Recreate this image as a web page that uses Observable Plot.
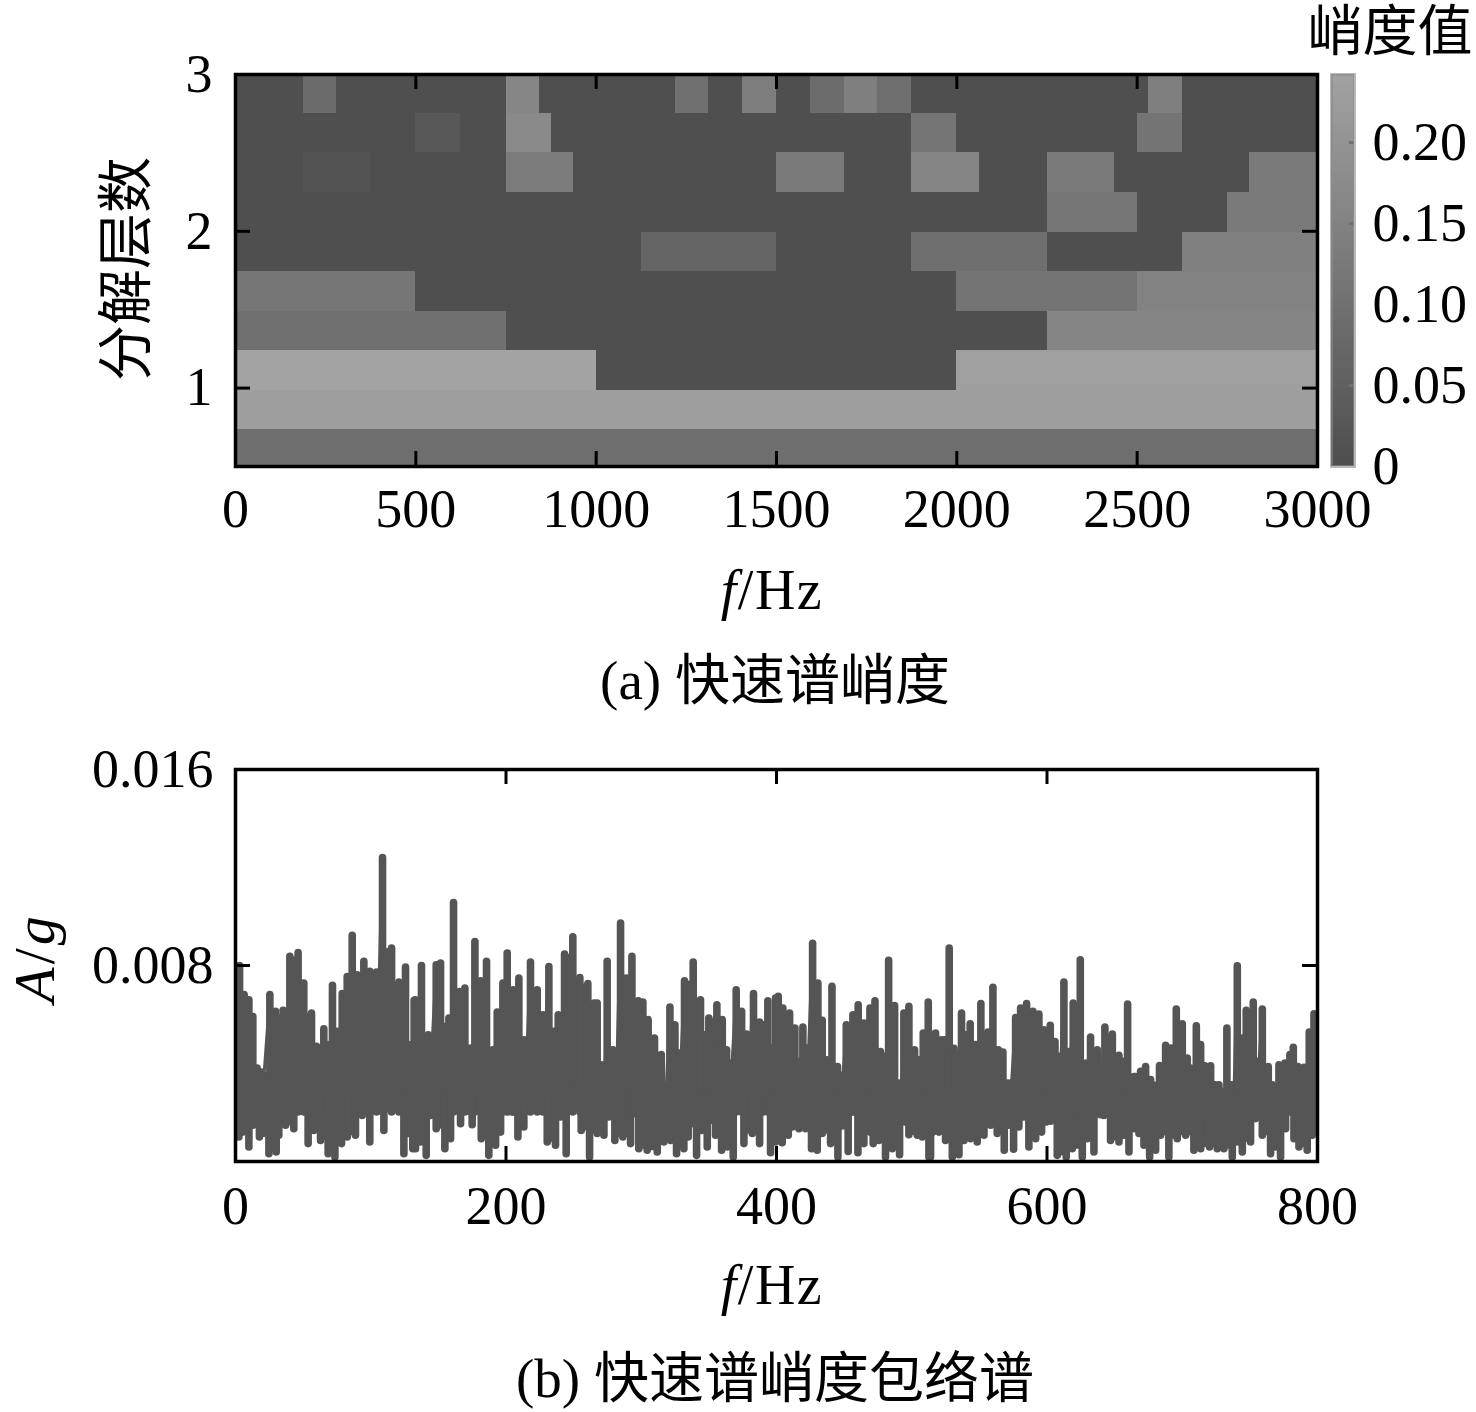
<!DOCTYPE html>
<html><head><meta charset="utf-8">
<script src="https://cdn.jsdelivr.net/npm/d3@7"></script>
<script src="https://cdn.jsdelivr.net/npm/@observablehq/plot@0.6"></script>
<style>
html,body{margin:0;padding:0;background:#fff;}
#page{position:relative;width:1476px;height:1412px;overflow:hidden;font-family:"Liberation Serif","Noto Sans CJK SC",serif;color:#000;}
#page>div{position:absolute;}
#page svg{position:absolute;left:0;top:0;background:transparent;overflow:visible;max-width:none;}
.t{font-size:55px;line-height:1;white-space:nowrap;transform:translate(-50%,-50%);}
.r{transform:translate(-50%,-50%) rotate(-90deg);}
.cjk{font-family:"Liberation Serif","Noto Sans CJK SC",serif;}
.u{font-size:56px;letter-spacing:1.5px;}
.a{font-size:58px;letter-spacing:3px;}
.l{font-size:56px;}
</style></head><body>
<div id="page"></div>
<script>
// ---------- (a) fast kurtogram: kurtosis per cell, one list per level (bottom row first)
const rowEdges = [0.5,0.736,0.985,1.24,1.49,1.744,1.99,2.25,2.5,2.75,3];
const rows = [
 [0.089],
 [0.228,0.228],
 [0.242,0,0.230],
 [0.095,0,0,0.156],
 [0.112,0,0,0,0.107,0.147],
 [0,0,0,0.060,0,0.089,0,0.141],
 [0,0,0,0,0,0,0,0,0,0.112,0,0.124],
 [0,0.012,0,0,0.130,0,0,0,0.124,0,0.156,0,0.124,0,0,0.124],
 [0,0,0,0,0.026,0,0.170,0,0,0,0,0,0,0,0,0.109,0,0,0,0,0.107,0,0,0],
 [0,0,0.081,0,0,0,0,0,0.158,0,0,0,0,0.095,0,0.132,0,0.084,0.138,0.089,0,0,0,0,0,0,0,0.138,0,0,0,0]
];
const heatXTicks = [0,500,1000,1500,2000,2500,3000];
const heatYTicks = [1,2,3];
const barTicks = [0,0.05,0.10,0.15,0.20];
const barMax = 0.242;

// ---------- (b) envelope spectrum, amplitude in 0.001 g: tops and bottoms of the trace
const hiF = [3.0,6.4,9.9,12.8,16.0,19.2,25.4,29.6,32.0,35.2,40.2,46.3,50.5,56.2,59.9,65.3,68.5,71.7,75.4,78.9,82.6,86.3,90.0,94.9,99.3,104.3,108.7,115.4,120.8,125.7,129.7,132.1,
133.1,137.5,142.5,148.4,151.6,155.3,157.8,161.2,165.6,169.6,173.8,177.0,181.2,185.6,190.3,193.5,197.7,200.9,205.3,209.5,213.5,218.1,223.1,227.3,231.7,235.4,238.6,243.3,249.4,254.6,260.5,265.2,
267.4,270.6,274.8,279.0,281.5,284.7,288.9,293.1,297.8,301.2,305.1,309.8,314.8,317.2,321.2,324.9,327.8,332.0,338.4,343.8,347.1,350.0,355.9,359.9,363.1,365.5,370.2,374.2,377.9,383.0,387.5,390.2,393.6,397.3,399.3,
401.3,404.7,406.7,409.7,413.6,416.1,419.5,422.7,426.7,430.6,433.8,437.5,441.0,445.1,446.6,451.6,456.5,460.4,464.6,469.1,472.8,476.9,479.4,482.9,487.3,491.0,494.2,497.9,502.1,505.3,507.0,508.5,512.2,517.6,521.8,524.3,527.7,531.2,
532.4,536.8,539.8,543.2,547.2,551.1,556.3,560.0,564.0,567.4,570.6,573.1,576.8,580.5,584.9,589.6,594.0,597.7,602.4,605.9,607.3,609.3,612.5,616.2,619.4,624.6,629.0,632.2,637.2,639.6,642.8,648.3,653.2,656.9,659.6,664.3,
665.5,669.2,672.9,676.6,679.5,683.2,687.7,691.4,695.6,700.0,703.7,706.2,710.4,713.6,716.8,721.0,724.2,727.1,729.1,733.0,736.5,740.7,744.4,747.3,752.5,756.2,759.2,763.6,766.6,768.5,771.5,775.9,779.6,782.1,785.5,790.0,793.9,797.4,800];
const hiA = [7.98,6.79,6.58,5.90,3.79,3.63,6.79,6.11,5.83,6.15,8.35,8.51,7.26,6.04,4.68,5.40,4.75,7.17,5.29,6.83,7.53,9.21,7.60,8.15,7.74,7.71,12.39,8.69,7.30,7.92,4.75,6.56,
6.58,7.98,5.15,8.01,8.08,5.49,5.83,10.55,6.92,7.06,4.61,8.96,7.36,8.15,4.54,6.08,7.26,8.49,6.99,7.47,4.95,8.12,6.99,5.97,7.94,5.29,5.97,8.45,9.15,7.49,7.24,6.45,
6.45,3.93,8.15,4.54,3.79,9.71,7.47,8.35,6.54,6.49,5.77,5.02,4.34,2.91,6.28,5.56,4.41,7.36,8.12,6.58,5.15,5.83,6.38,5.77,4.54,4.00,6.99,6.11,5.18,6.83,5.67,5.56,6.54,4.61,6.65,
6.72,6.24,3.39,6.04,5.43,4.07,5.47,4.61,8.89,7.26,5.74,4.13,7.13,3.86,3.52,5.56,5.97,6.38,5.63,6.24,6.54,4.47,4.27,8.19,6.35,3.18,6.04,6.31,4.54,4.13,3.39,5.22,6.49,5.22,4.95,4.95,8.69,4.60,
4.41,6.04,5.15,5.60,4.75,6.43,5.26,7.09,4.54,4.45,3.18,3.18,5.86,6.24,6.43,6.11,6.00,5.36,5.54,4.88,2.64,4.27,7.30,4.47,6.45,8.21,4.00,5.06,4.54,1.89,5.47,5.18,4.31,4.07,6.41,3.45,
3.45,3.66,3.86,3.32,3.09,3.90,4.72,4.61,6.20,5.60,4.20,3.79,5.52,4.75,3.89,3.89,3.11,3.11,2.84,5.43,3.11,7.97,5.02,6.15,6.49,4.07,6.20,3.86,3.11,2.71,3.93,4.00,4.34,4.64,3.86,3.82,5.26,6.01,5.97];
const loF = [2.5,5.4,9.9,12.8,17.7,24.7,30.1,32.0,37.0,43.1,48.1,53.7,57.9,62.9,68.5,73.5,78.4,82.6,88.7,93.7,99.3,103.5,109.7,114.6,119.6,121.3,124.5,128.2,131.1,
133.1,136.8,141.0,144.2,148.4,154.8,159.0,162.2,166.4,170.6,175.0,179.2,181.7,187.3,192.3,196.0,199.7,202.9,204.6,208.8,213.2,218.1,223.1,226.3,230.5,236.6,240.3,244.5,249.4,252.7,255.6,261.8,
267.4,272.4,276.1,280.5,286.4,292.1,295.3,298.2,304.4,311.8,316.7,321.7,326.1,331.5,334.7,337.7,340.9,344.6,348.8,352.5,354.9,359.4,363.6,368.0,372.2,375.9,382.1,387.5,391.4,395.6,399.3,
400.5,404.2,408.7,411.6,416.6,421.5,425.9,430.1,433.8,440.0,445.4,448.6,453.0,457.2,460.2,464.6,469.1,471.5,475.7,480.6,485.6,491.0,494.9,497.9,504.1,507.8,512.7,513.9,515.6,520.1,525.0,530.0,
534.9,538.6,543.5,548.4,553.4,558.3,563.2,568.4,571.8,575.3,579.2,582.9,586.6,591.6,596.0,599.5,602.7,607.6,614.2,618.7,626.1,629.8,634.7,638.9,642.1,647.0,653.2,656.9,660.6,664.3,
668.0,671.7,675.9,680.3,684.0,690.1,696.3,702.5,708.6,713.6,720.2,725.9,730.8,737.0,740.7,744.4,750.5,754.2,759.2,765.3,769.0,772.7,776.4,780.1,782.6,786.3,792.4,796.1,800];
const loA = [0.98,1.18,0.57,1.46,0.98,0.30,0.37,1.05,1.46,1.32,3.50,0.71,1.25,0.84,0.30,0.16,0.71,0.98,1.05,1.86,0.78,2.14,1.25,2.14,2.14,2.88,0.30,1.12,0.50,
0.50,0.78,0.23,1.86,1.32,0.50,0.91,2.20,1.52,2.34,1.48,2.82,0.91,0.23,0.64,1.18,2.14,2.95,2.00,0.98,1.39,2.54,3.09,2.14,0.78,0.64,1.80,0.30,3.02,3.02,1.25,0.16,
1.12,1.05,1.80,0.84,0.98,0.71,1.93,0.50,0.44,0.37,0.78,0.84,0.30,0.50,0.98,1.52,0.23,1.25,0.57,1.66,1.05,0.44,0.57,0.16,2.07,0.71,1.12,0.71,2.61,0.34,0.78,
0.98,0.75,1.05,1.39,1.32,1.32,0.50,0.44,1.12,0.71,0.16,1.43,0.39,2.00,0.34,0.71,1.18,0.71,0.84,0.16,0.50,0.26,1.59,1.07,1.05,0.98,0.16,0.16,1.18,1.18,0.84,0.16,
0.26,0.84,0.91,0.78,1.05,1.46,1.12,0.44,1.46,0.48,1.39,1.80,0.57,0.91,1.18,1.59,1.62,0.23,0.16,0.50,0.16,0.91,0.37,2.00,1.86,0.84,0.78,1.05,0.37,1.32,
1.12,0.64,0.16,0.44,1.05,0.16,0.91,1.05,0.44,0.50,0.57,0.50,0.50,0.16,0.78,0.37,0.78,1.73,1.05,0.30,0.57,0.16,1.32,2.14,0.91,0.57,0.44,1.05,1.18];
const lineXTicks = [0,200,400,600,800];
const lineYTicks = [0,0.008,0.016];
const lineYLabels = ["0.008","0.016"];

// ---------- text
const texts = [
 {html:"峭度值",x:1390,y:31,cls:"cjk"},
 {html:"分解层数",x:126,y:269,cls:"cjk r l"},
 {html:"<i>f</i>/Hz",x:772,y:590,cls:"u"},
 {html:"(a) 快速谱峭度",x:775,y:680,cls:"cjk"},
 {html:"<i>A</i>/<i>g</i>",x:35,y:958,cls:"r a"},
 {html:"<i>f</i>/Hz",x:772,y:1285,cls:"u"},
 {html:"(b) 快速谱峭度包络谱",x:775,y:1378,cls:"cjk"}
];

const page = document.getElementById("page");
function place(node, top){
  const w = document.createElement("div");
  w.style.cssText = `left:0;top:${top}px;width:1476px;`;
  w.appendChild(node); page.appendChild(w);
}
const colorScale = {type:"linear",domain:[0,barMax],range:["#4f4f4f","#a3a3a3"]};
const font = {fontFamily:"Liberation Serif",fontSize:54,fill:"#000"};
const TICK = 15, TW = 3, FW = 3.5;

// heat cells
const cells = rows.flatMap((vals,r)=>vals.map((v,i)=>({
  x1:i*3000/vals.length, x2:(i+1)*3000/vals.length, y1:rowEdges[r], y2:rowEdges[r+1], v
})));

const P1H = 392;
place(Plot.plot({
  width:1476,height:600,marginLeft:235,marginRight:159,marginTop:74,marginBottom:134,
  style:{background:"transparent",overflow:"visible"},
  x:{domain:[0,3000]},
  y:{domain:[0.5,3]},
  color:colorScale,
  marks:[
    Plot.rect(cells,{x1:"x1",x2:"x2",y1:"y1",y2:"y2",fill:"v",shapeRendering:"crispEdges"}),
    Plot.ruleX(heatXTicks,{insetTop:P1H-TICK,strokeWidth:TW}),
    Plot.ruleX(heatXTicks,{insetBottom:P1H-TICK,strokeWidth:TW}),
    Plot.ruleY(heatYTicks,{insetRight:1082-TICK,strokeWidth:TW}),
    Plot.ruleY(heatYTicks,{insetLeft:1082-TICK,strokeWidth:TW}),
    Plot.frame({stroke:"#000",strokeWidth:FW}),
    Plot.axisX({ticks:heatXTicks,tickSize:0,tickPadding:22,tickFormat:d=>String(d),label:null,...font}),
    Plot.axisY({ticks:heatYTicks,tickSize:0,tickPadding:23,tickFormat:d=>String(d),label:null,...font})
  ]
}),0);

// colour bar
const bands = d3.range(0,barMax,barMax/40);
place(Plot.plot({
  width:1476,height:600,marginLeft:1331,marginRight:122,marginTop:74,marginBottom:134,
  style:{background:"transparent",overflow:"visible"},
  x:{axis:null,domain:[0,1]},
  y:{domain:[0,barMax]},
  color:colorScale,
  marks:[
    Plot.rect(bands,{x1:0,x2:1,y1:d=>d,y2:d=>d+barMax/40,fill:d=>d,shapeRendering:"crispEdges"}),
    Plot.ruleY(barTicks.slice(1),{insetLeft:18,stroke:"#707070",strokeWidth:3}),
    Plot.frame({stroke:"#8a8a8a",strokeWidth:3,strokeOpacity:0.6}),
    Plot.axisY({anchor:"right",ticks:barTicks,tickSize:0,tickPadding:18,label:null,
      tickFormat:d=>d===0?"0":d.toFixed(2),...font})
  ]
}),0);

// envelope spectrum: the trace swings between each top and its nearest bottom; the dense
// swings merge into a solid body, bounded by the lower of two neighbouring tops (and the
// higher of two neighbouring bottoms)
const tops = hiF.map((f,i)=>({f,a:hiA[i]/1000}));
const bottoms = loF.map((f,i)=>({f,a:loA[i]/1000}));
const trace = tops.flatMap(t=>[t, d3.least(bottoms,b=>Math.abs(b.f-t.f))]);
const traceStyle = {stroke:"#555555",strokeLinecap:"round",clip:true};
const bodyTop = 0.002, bodyBottom = 0.0028;
const topSpans = d3.pairs(tops).map(([p,q])=>({x1:p.f,x2:q.f,a:Math.min(p.a,q.a)}));
const bottomSpans = d3.pairs(bottoms).map(([p,q])=>({x1:p.f,x2:q.f,a:Math.max(p.a,q.a)}));
place(Plot.plot({
  width:1476,height:640,marginLeft:235,marginRight:159,marginTop:69,marginBottom:179,
  style:{background:"transparent",overflow:"visible"},
  x:{domain:[0,800]},
  y:{domain:[0,0.016]},
  marks:[
    Plot.rect(topSpans,{x1:"x1",x2:"x2",y1:bodyTop,y2:"a",fill:"#555555",clip:true}),
    Plot.rect(bottomSpans,{x1:"x1",x2:"x2",y1:bodyBottom,y2:"a",fill:"#555555",clip:true}),
    Plot.line(trace,{x:"f",y:"a",strokeWidth:3,strokeLinejoin:"round",...traceStyle}),
    Plot.ruleX(tops,{x:"f",y1:"a",y2:bodyTop,strokeWidth:7.6,...traceStyle}),
    Plot.ruleX(bottoms,{x:"f",y1:"a",y2:bodyBottom,strokeWidth:7.6,...traceStyle}),
    Plot.ruleX(lineXTicks,{insetTop:P1H-TICK,strokeWidth:TW}),
    Plot.ruleX(lineXTicks,{insetBottom:P1H-TICK,strokeWidth:TW}),
    Plot.ruleY(lineYTicks,{insetRight:1082-TICK,strokeWidth:TW}),
    Plot.ruleY(lineYTicks,{insetLeft:1082-TICK,strokeWidth:TW}),
    Plot.frame({stroke:"#000",strokeWidth:FW}),
    Plot.axisX({ticks:lineXTicks,tickSize:0,tickPadding:24,tickFormat:d=>String(d),label:null,...font}),
    Plot.axisY({ticks:[0.008,0.016],tickSize:0,tickPadding:22,tickFormat:(d,i)=>lineYLabels[i],label:null,...font})
  ]
}),700);

for(const t of texts){
  const d=document.createElement("div");
  d.className="t "+(t.cls||"");
  d.style.left=t.x+"px"; d.style.top=t.y+"px";
  d.innerHTML=t.html; page.appendChild(d);
}
</script>
</body></html>
